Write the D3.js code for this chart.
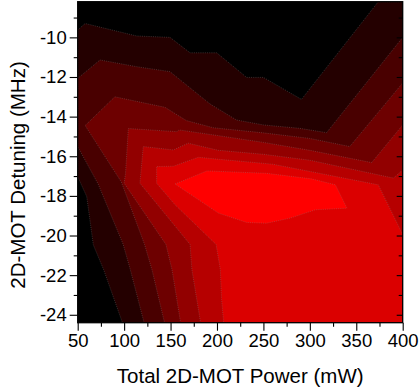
<!DOCTYPE html>
<html>
<head>
<meta charset="utf-8">
<script src="https://cdn.jsdelivr.net/npm/d3@7"></script>
<style>
    body { margin: 0; background: #fff; }
    text { font-family: "Liberation Sans", Arial, sans-serif; fill: #000; }
</style>
</head>
<body>
<div id="chart"></div>
<script>
// contour bands, [power (mW), detuning (MHz)]
// each polygon is the area where the signal is at or above that level
const level1 = [[50, -9.63], [58, -9.3], [113.5, -9.93], [149.4, -10.0], [171, -10.78], [199.7, -10.78],
    [232, -12.02], [250, -12.02], [291, -13.13], [373.7, -8.2], [400, -8.2], [400, -24.4],
    [98.2, -24.4], [78, -21.73], [66.8, -20.47], [59.7, -18.03], [50, -17.03]];
const level2 = [[50, -12.07], [74, -11.14], [113.5, -11.48], [149.4, -11.73], [192.5, -13.36], [221, -14.17],
    [250, -14.42], [289, -14.59], [318, -14.81], [400, -10.0], [400, -24.4],
    [121.5, -24.4], [106.7, -21.73], [99, -20.45], [72, -17.4], [50, -15.51]];
const level3 = [[400, -12.3], [343, -15.51], [300, -15.1], [250, -14.82], [196, -14.56], [167, -14.2],
    [144, -13.53], [90, -13.0], [58, -14.45], [97, -17.3], [122, -20.45], [130, -21.73],
    [143.5, -24.4], [400, -24.4]];
const level4 = [[400, -14.42], [366.6, -16.32], [300, -15.7], [250, -15.3], [200, -14.95], [159, -14.67],
    [157, -14.76], [104.5, -14.6], [101.5, -16.86], [100, -17.36], [145, -20.45], [151.6, -21.73],
    [160.8, -24.4], [400, -24.4]];
const level5 = [[400, -16.69], [390, -17.1], [300, -16.2], [250, -15.9], [201.5, -15.7], [169, -15.34],
    [153, -15.68], [120.6, -15.51], [117, -17.36], [171, -20.45], [173, -21.73], [182.3, -24.4],
    [400, -24.4]];
const level6 = [[400, -19.95], [373.7, -17.44], [260, -16.4], [201.5, -16.15], [180, -16.05], [153, -16.5],
    [135, -16.52], [135, -17.36], [154.8, -18.45], [199, -20.45], [203.6, -21.73], [205, -23.24],
    [207.2, -24.4], [400, -24.4]];
const level7 = [[154.8, -17.4], [189, -16.74], [253.4, -16.86], [301.8, -17.14], [327.5, -17.44],
    [340, -18.62], [306, -18.7], [279, -19.12], [253.4, -19.38], [232, -19.34], [201.5, -18.87]];

const levels = [level1, level2, level3, level4, level5, level6, level7];
const levelColors = ["#240000", "#490000", "#6d0000", "#920000", "#b60000", "#db0000", "#ff0000"];

const xTicks = [50, 100, 150, 200, 250, 300, 350, 400];
const xMinor = [75, 125, 175, 225, 275, 325, 375];
const yTicks = [-24, -22, -20, -18, -16, -14, -12, -10];
const yMinor = [-23, -21, -19, -17, -15, -13, -11, -9];

let w = 420, h = 392;
let pLeft = 77.7, pRight = 402.7, pTop = 1.7, pBottom = 322.7;

let x = d3.scaleLinear().domain([50, 400]).range([pLeft, pRight]);
let y = d3.scaleLinear().domain([-24.4, -8.2]).range([pBottom, pTop]);

let svg = d3.select("#chart")
    .append("svg")
    .attr("width", w)
    .attr("height", h);

svg.append("clipPath")
    .attr("id", "plot-clip")
    .append("rect")
    .attr("x", pLeft)
    .attr("y", pTop)
    .attr("width", pRight - pLeft)
    .attr("height", pBottom - pTop);

let plot = svg.append("g").attr("clip-path", "url(#plot-clip)");

// lowest level is plain black
plot.append("rect")
    .attr("x", pLeft)
    .attr("y", pTop)
    .attr("width", pRight - pLeft)
    .attr("height", pBottom - pTop)
    .attr("fill", "#000");

let line = d3.line()
    .x(d => x(d[0]))
    .y(d => y(d[1]))
    .curve(d3.curveLinearClosed);

plot.selectAll("path.band")
    .data(levels)
    .join("path")
    .attr("class", "band")
    .attr("d", line)
    .attr("fill", (d, i) => levelColors[i])
    .attr("stroke", "#8a8a8a")
    .attr("stroke-opacity", 0.55)
    .attr("stroke-width", 0.6)
    .attr("stroke-dasharray", "1,1.2");

// axes
let fontSize = "18.5px";

svg.append("g")
    .attr("transform", "translate(0," + pBottom + ")")
    .call(d3.axisBottom(x).tickValues(xTicks).tickSize(8).tickPadding(3).tickSizeOuter(0));
svg.append("g")
    .attr("transform", "translate(0," + pBottom + ")")
    .call(d3.axisBottom(x).tickValues(xMinor).tickSize(4).tickFormat("").tickSizeOuter(0));

svg.append("g")
    .attr("transform", "translate(" + pLeft + ",0)")
    .call(d3.axisLeft(y).tickValues(yTicks).tickSize(8).tickPadding(3).tickSizeOuter(0)
        .tickFormat(d => String(d).replace("\u2212", "-")));
svg.append("g")
    .attr("transform", "translate(" + pLeft + ",0)")
    .call(d3.axisLeft(y).tickValues(yMinor).tickSize(4).tickFormat("").tickSizeOuter(0));

// right side ticks point inward
svg.append("g")
    .attr("transform", "translate(" + pRight + ",0)")
    .call(d3.axisRight(y).tickValues(yTicks).tickSize(-6).tickFormat("").tickSizeOuter(0));
svg.append("g")
    .attr("transform", "translate(" + pRight + ",0)")
    .call(d3.axisRight(y).tickValues(yMinor).tickSize(-4).tickFormat("").tickSizeOuter(0));

svg.selectAll(".domain").remove();
svg.selectAll(".tick line").attr("stroke", "#000").attr("stroke-width", 1.1);
svg.selectAll(".tick text")
    .style("font-size", fontSize)
    .style("font-family", "'Liberation Sans', Arial, sans-serif")
    .attr("fill", "#000");

// frame
svg.append("rect")
    .attr("x", pLeft)
    .attr("y", pTop)
    .attr("width", pRight - pLeft)
    .attr("height", pBottom - pTop)
    .attr("fill", "none")
    .attr("stroke", "#000")
    .attr("stroke-width", 1.3);

svg.append("text")
    .attr("x", (pLeft + pRight) / 2)
    .attr("y", 383)
    .attr("text-anchor", "middle")
    .style("font-size", "20.5px")
    .text("Total 2D-MOT Power (mW)");

svg.append("text")
    .attr("transform", "translate(25,175) rotate(-90)")
    .attr("text-anchor", "middle")
    .style("font-size", "20.5px")
    .text("2D-MOT Detuning (MHz)");
</script>
</body>
</html>
